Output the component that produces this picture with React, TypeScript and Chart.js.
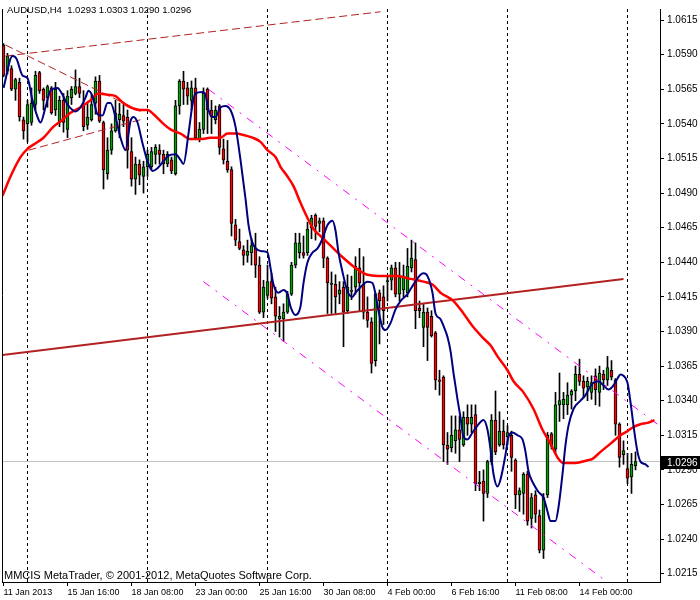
import React, { useEffect, useRef } from "react";
import { Chart, registerables } from "chart.js";

Chart.register(...registerables);

const symbolTitle = "AUDUSD,H4";
const copyright = "MMCIS MetaTrader, \u00A9 2001-2012, MetaQuotes Software Corp.";

// H4 candles, bar 0 = 11 Jan 2013 00:00
const open = [
  1.0597, 1.0578, 1.0580, 1.0565, 1.0570, 1.0543, 1.0540, 1.0541, 1.0554, 1.0577,
  1.0565, 1.0559, 1.0566, 1.0550, 1.0541, 1.0557, 1.0536, 1.0559, 1.0562, 1.0567,
  1.0553, 1.0539, 1.0543, 1.0555, 1.0571, 1.0541, 1.0504, 1.0521, 1.0535, 1.0543,
  1.0546, 1.0545, 1.0520, 1.0500, 1.0511, 1.0502, 1.0509, 1.0509, 1.0518, 1.0521,
  1.0518, 1.0511, 1.0514, 1.0504, 1.0553, 1.0571, 1.0566, 1.0557, 1.0566, 1.0529,
  1.0536, 1.0565, 1.0550, 1.0543, 1.0553, 1.0522, 1.0513, 1.0507, 1.0467, 1.0455,
  1.0449, 1.0445, 1.0447, 1.0450, 1.0438, 1.0404, 1.0416, 1.0426, 1.0415, 1.0399,
  1.0399, 1.0404, 1.0417, 1.0438, 1.0447, 1.0447, 1.0447, 1.0465, 1.0474, 1.0468,
  1.0470, 1.0443, 1.0424, 1.0424, 1.0417, 1.0422, 1.0405, 1.0419, 1.0422, 1.0436,
  1.0424, 1.0404, 1.0397, 1.0369, 1.0418, 1.0415, 1.0426, 1.0427, 1.0436, 1.0417,
  1.0420, 1.0418, 1.0436, 1.0442, 1.0407, 1.0393, 1.0404, 1.0401, 1.0389, 1.0355,
  1.0357, 1.0308, 1.0306, 1.0311, 1.0319, 1.0308, 1.0328, 1.0323, 1.0330, 1.0280,
  1.0282, 1.0273, 1.0296, 1.0326, 1.0308, 1.0318, 1.0314, 1.0315, 1.0297, 1.0272,
  1.0273, 1.0287, 1.0255, 1.0272, 1.0257, 1.0232, 1.0272, 1.0316, 1.0305, 1.0337,
  1.0337, 1.0337, 1.0344, 1.0347, 1.0359, 1.0354, 1.0350, 1.0346, 1.0358, 1.0346,
  1.0359, 1.0355, 1.0362, 1.0355, 1.0323, 1.0301, 1.0291, 1.0285, 1.0293,
];
const high = [
  1.0598, 1.0591, 1.0582, 1.0573, 1.0573, 1.0545, 1.0557, 1.0566, 1.0578, 1.0578,
  1.0566, 1.0568, 1.0567, 1.0570, 1.0560, 1.0562, 1.0564, 1.0567, 1.0579, 1.0573,
  1.0564, 1.0555, 1.0561, 1.0574, 1.0575, 1.0542, 1.0530, 1.0540, 1.0557, 1.0555,
  1.0554, 1.0550, 1.0530, 1.0516, 1.0514, 1.0513, 1.0521, 1.0523, 1.0525, 1.0525,
  1.0521, 1.0520, 1.0516, 1.0557, 1.0572, 1.0578, 1.0570, 1.0571, 1.0573, 1.0541,
  1.0566, 1.0566, 1.0557, 1.0553, 1.0554, 1.0529, 1.0528, 1.0509, 1.0471, 1.0464,
  1.0452, 1.0456, 1.0457, 1.0461, 1.0444, 1.0427, 1.0438, 1.0432, 1.0422, 1.0408,
  1.0410, 1.0419, 1.0440, 1.0461, 1.0461, 1.0459, 1.0469, 1.0474, 1.0475, 1.0472,
  1.0472, 1.0444, 1.0433, 1.0431, 1.0426, 1.0426, 1.0431, 1.0430, 1.0444, 1.0450,
  1.0444, 1.0415, 1.0400, 1.0418, 1.0420, 1.0423, 1.0430, 1.0438, 1.0440, 1.0440,
  1.0438, 1.0450, 1.0456, 1.0454, 1.0412, 1.0410, 1.0407, 1.0405, 1.0390, 1.0362,
  1.0358, 1.0317, 1.0329, 1.0329, 1.0329, 1.0332, 1.0337, 1.0337, 1.0337, 1.0289,
  1.0290, 1.0297, 1.0330, 1.0347, 1.0332, 1.0326, 1.0322, 1.0318, 1.0298, 1.0277,
  1.0288, 1.0289, 1.0273, 1.0275, 1.0261, 1.0273, 1.0317, 1.0317, 1.0346, 1.0360,
  1.0346, 1.0353, 1.0348, 1.0365, 1.0370, 1.0358, 1.0357, 1.0358, 1.0363, 1.0365,
  1.0362, 1.0372, 1.0369, 1.0356, 1.0324, 1.0311, 1.0302, 1.0302, 1.0303,
];
const low = [
  1.0574, 1.0576, 1.0564, 1.0557, 1.0542, 1.0529, 1.0527, 1.0539, 1.0550, 1.0562,
  1.0550, 1.0552, 1.0547, 1.0546, 1.0538, 1.0534, 1.0530, 1.0554, 1.0561, 1.0559,
  1.0535, 1.0536, 1.0542, 1.0547, 1.0541, 1.0493, 1.0500, 1.0518, 1.0534, 1.0530,
  1.0538, 1.0508, 1.0495, 1.0489, 1.0496, 1.0490, 1.0502, 1.0507, 1.0511, 1.0511,
  1.0504, 1.0509, 1.0504, 1.0503, 1.0547, 1.0554, 1.0554, 1.0550, 1.0529, 1.0527,
  1.0533, 1.0533, 1.0533, 1.0540, 1.0518, 1.0511, 1.0505, 1.0459, 1.0452, 1.0449,
  1.0438, 1.0440, 1.0438, 1.0429, 1.0403, 1.0400, 1.0414, 1.0410, 1.0390, 1.0386,
  1.0383, 1.0403, 1.0416, 1.0436, 1.0443, 1.0443, 1.0445, 1.0457, 1.0456, 1.0462,
  1.0436, 1.0403, 1.0403, 1.0403, 1.0410, 1.0379, 1.0403, 1.0413, 1.0417, 1.0405,
  1.0399, 1.0393, 1.0360, 1.0365, 1.0381, 1.0395, 1.0412, 1.0420, 1.0415, 1.0412,
  1.0415, 1.0415, 1.0433, 1.0392, 1.0400, 1.0379, 1.0369, 1.0386, 1.0348, 1.0344,
  1.0296, 1.0294, 1.0303, 1.0302, 1.0296, 1.0307, 1.0315, 1.0317, 1.0275, 1.0275,
  1.0253, 1.0270, 1.0294, 1.0301, 1.0307, 1.0305, 1.0308, 1.0289, 1.0262, 1.0260,
  1.0258, 1.0250, 1.0248, 1.0252, 1.0230, 1.0226, 1.0270, 1.0305, 1.0302, 1.0325,
  1.0327, 1.0330, 1.0334, 1.0340, 1.0351, 1.0342, 1.0340, 1.0341, 1.0337, 1.0336,
  1.0348, 1.0351, 1.0355, 1.0315, 1.0292, 1.0294, 1.0280, 1.0273, 1.0290,
];
const close = [
  1.0575, 1.0589, 1.0565, 1.0572, 1.0545, 1.0535, 1.0554, 1.0555, 1.0575, 1.0564,
  1.0557, 1.0567, 1.0548, 1.0565, 1.0557, 1.0541, 1.0560, 1.0565, 1.0567, 1.0562,
  1.0538, 1.0545, 1.0554, 1.0571, 1.0542, 1.0507, 1.0521, 1.0535, 1.0548, 1.0547,
  1.0542, 1.0521, 1.0500, 1.0511, 1.0503, 1.0509, 1.0518, 1.0520, 1.0523, 1.0518,
  1.0511, 1.0518, 1.0506, 1.0553, 1.0571, 1.0565, 1.0560, 1.0566, 1.0530, 1.0536,
  1.0562, 1.0550, 1.0545, 1.0550, 1.0523, 1.0514, 1.0507, 1.0468, 1.0456, 1.0450,
  1.0445, 1.0448, 1.0452, 1.0438, 1.0404, 1.0422, 1.0426, 1.0414, 1.0401, 1.0401,
  1.0404, 1.0417, 1.0438, 1.0454, 1.0454, 1.0445, 1.0464, 1.0472, 1.0466, 1.0470,
  1.0443, 1.0425, 1.0425, 1.0415, 1.0420, 1.0404, 1.0422, 1.0420, 1.0437, 1.0425,
  1.0404, 1.0398, 1.0367, 1.0417, 1.0412, 1.0405, 1.0426, 1.0436, 1.0417, 1.0429,
  1.0430, 1.0437, 1.0443, 1.0405, 1.0405, 1.0404, 1.0393, 1.0387, 1.0355, 1.0354,
  1.0308, 1.0305, 1.0315, 1.0319, 1.0312, 1.0328, 1.0323, 1.0328, 1.0280, 1.0281,
  1.0273, 1.0296, 1.0326, 1.0303, 1.0318, 1.0308, 1.0317, 1.0299, 1.0272, 1.0275,
  1.0287, 1.0253, 1.0270, 1.0258, 1.0232, 1.0270, 1.0315, 1.0307, 1.0337, 1.0340,
  1.0341, 1.0344, 1.0347, 1.0359, 1.0354, 1.0349, 1.0354, 1.0353, 1.0348, 1.0360,
  1.0355, 1.0364, 1.0357, 1.0323, 1.0299, 1.0304, 1.0284, 1.0294, 1.0296,
];

const timeTickBars = [0, 16, 32, 48, 64, 80, 96, 112, 128, 144];
const timeTickLabels = [
  "11 Jan 2013", "15 Jan 16:00", "18 Jan 08:00", "23 Jan 00:00", "25 Jan 16:00",
  "30 Jan 08:00", "4 Feb 00:00", "6 Feb 16:00", "11 Feb 08:00", "14 Feb 00:00",
];
const weekSeparatorBars = [6, 36, 66, 96, 126, 156];
const priceTicks = [
  1.0215, 1.024, 1.0265, 1.029, 1.0315, 1.034, 1.0365, 1.039, 1.0415,
  1.044, 1.0465, 1.049, 1.0515, 1.054, 1.0565, 1.059, 1.0615,
];

// [bar, price] readings of the fast (blue) moving average
const blueMA = [
  [0, 1.0566], [2.25, 1.0589], [3.25, 1.0587], [4.75, 1.0575], [6, 1.0573], [7.25, 1.0557],
  [8.5, 1.0545], [9.25, 1.0541], [10.5, 1.0552], [11.75, 1.0564], [13.5, 1.0566], [14.75, 1.0561],
  [16, 1.0554], [17.25, 1.055], [18, 1.0549], [19.25, 1.0552], [20.5, 1.0559], [21.25, 1.0564],
  [22.25, 1.056], [23.5, 1.0547], [24.75, 1.0546], [26, 1.0555], [26.75, 1.0555], [28, 1.0545],
  [29.25, 1.053], [30.5, 1.0521], [31.75, 1.0542], [32.5, 1.0545], [33.5, 1.0541], [34.75, 1.0526],
  [36, 1.0513], [37.25, 1.0506], [38.5, 1.0508], [40, 1.0513], [41.25, 1.0517], [43, 1.0518],
  [44.25, 1.0514], [45, 1.0511], [46.25, 1.0533], [47.25, 1.0554], [48, 1.0562], [49.75, 1.0563],
  [50.5, 1.0561], [51.25, 1.055], [52.25, 1.0545], [53, 1.0545], [54.25, 1.0552], [55.5, 1.0553],
  [56.75, 1.055], [58, 1.0538], [59.25, 1.0514], [60.5, 1.0486], [61.25, 1.0467], [62.25, 1.0454],
  [63.5, 1.0449], [64.75, 1.0448], [66, 1.0447], [66.75, 1.0436], [67.5, 1.0424], [68.75, 1.0418],
  [70, 1.042], [71, 1.0417], [71.75, 1.0408], [73, 1.0402], [74.25, 1.0408], [75, 1.0425],
  [76, 1.044], [77.25, 1.0447], [78.5, 1.045], [79.75, 1.0457], [81, 1.0467], [82.25, 1.047],
  [83, 1.0463], [83.75, 1.0447], [84.75, 1.0433], [86, 1.0419], [87.25, 1.0415], [88, 1.0418],
  [89.25, 1.0422], [91, 1.0426], [92.25, 1.0425], [93, 1.0417], [93.75, 1.0405], [94.75, 1.0393],
  [95.5, 1.0391], [96.75, 1.0396], [98, 1.0406], [99.25, 1.0412], [101, 1.0417], [102.5, 1.0424],
  [104.25, 1.0431], [105, 1.0432], [106, 1.043], [107.25, 1.0418], [108, 1.0403], [109.25, 1.0399],
  [110, 1.0394], [111, 1.0386], [111.75, 1.0376], [112.5, 1.036], [113.5, 1.0341], [114.25, 1.0328],
  [115, 1.0314], [116, 1.0312], [117.25, 1.0317], [118.5, 1.0322], [120, 1.0326], [121, 1.0319],
  [121.75, 1.0305], [122.5, 1.0287], [123.5, 1.0278], [124.25, 1.0283], [125.5, 1.0301], [126.25, 1.0314],
  [127.25, 1.0317], [128.5, 1.0315], [129.75, 1.0312], [130.5, 1.0303], [131.25, 1.0289], [132.5, 1.028],
  [133.75, 1.0274], [135, 1.027], [136, 1.026], [136.75, 1.0253], [138, 1.0253], [138.75, 1.0263],
  [139.75, 1.0287], [140.5, 1.0308], [141.25, 1.0322], [142.5, 1.0334], [144.25, 1.034], [145.5, 1.0344],
  [146.25, 1.0348], [147.5, 1.0353], [148.75, 1.0354], [150, 1.0351], [151.25, 1.0348], [152.5, 1.0351],
  [153.5, 1.0356], [154.25, 1.0359], [155, 1.0358], [156, 1.0353], [156.75, 1.0339], [157.5, 1.0322],
  [158.5, 1.0303], [159.25, 1.0296], [160.5, 1.0294], [161.25, 1.0292],
];

// [bar, price] readings of the slow (red) moving average
const redMA = [
  [-0.25, 1.0488], [1.75, 1.0502], [4.25, 1.0516], [6, 1.0522], [7.5, 1.0525], [10, 1.053],
  [12.5, 1.0538], [14.75, 1.0543], [16.75, 1.0548], [19.25, 1.0552], [21.75, 1.0557], [23.75, 1.0562],
  [26, 1.0561], [28, 1.056], [30, 1.0555], [31.75, 1.0552], [34.25, 1.055], [36, 1.055],
  [37.5, 1.0547], [40, 1.054], [41.75, 1.0536], [44.25, 1.0533], [46.75, 1.0529], [49.25, 1.0529],
  [51.75, 1.053], [54.25, 1.053], [56, 1.0533], [58, 1.0533], [60, 1.0532], [62.25, 1.053],
  [64.25, 1.0527], [66, 1.0521], [68, 1.0516], [69.25, 1.0509], [71, 1.0502], [72.5, 1.0495],
  [74.25, 1.0483], [76, 1.0472], [77.5, 1.0464], [79.25, 1.0459], [81.75, 1.0452], [84.25, 1.0445],
  [87.5, 1.0437], [91, 1.0431], [95, 1.043], [98.5, 1.043], [101.75, 1.0428], [105, 1.0426],
  [107.25, 1.0424], [109.25, 1.0418], [112.5, 1.0412], [115, 1.0403], [117.5, 1.0393], [120, 1.0385],
  [121.75, 1.038], [123.5, 1.0372], [126, 1.0362], [127.5, 1.0354], [130, 1.0346], [132.5, 1.0334],
  [134.75, 1.0319], [136.75, 1.0309], [138.5, 1.0299], [140, 1.0295], [143, 1.0295], [146, 1.0297],
  [147.25, 1.0298], [149.25, 1.0303], [151.75, 1.0309], [154.25, 1.0315], [156, 1.0318], [157.5, 1.0321],
  [159.25, 1.0323], [161, 1.0324], [162.75, 1.0326],
];

// drawn objects: [bar, price] anchor points
const trendLine = [[-0.25, 1.0373], [155, 1.0428]];
const dashUpper = [[0.5, 1.0589], [94.25, 1.0621]];
const dashLower = [[6.25, 1.0521], [34.25, 1.0543]];
const dashFall = [[0.5, 1.0597], [34.25, 1.0549]];
const channelUpper = [[51.25, 1.0565], [163.5, 1.0323]];
const channelLower = [[50, 1.0426], [150, 1.0211]];

const X_MIN = -0.375;
const X_MAX = 164.125;
const Y_MIN = 1.0209;
const Y_MAX = 1.0623;

const FONT = '"Liberation Sans", Arial, sans-serif';

export default function App() {
  const ref = useRef<HTMLCanvasElement | null>(null);

  useEffect(() => {
    document.body.style.margin = "0";
    const canvas = ref.current;
    if (!canvas) return;
    const bars = open.map((_, i) => i);
    const last = close[close.length - 1];
    const pts = (arr: number[][]) => arr.map(([x, y]) => ({ x, y }));

    const priceBox = {
      id: "priceBox",
      afterDraw(chart: any) {
        const { ctx, chartArea } = chart;
        const y = Math.round(chart.scales.y.getPixelForValue(last));
        ctx.save();
        ctx.fillStyle = "#000";
        ctx.fillRect(chartArea.right + 1, y - 6, 39, 13);
        ctx.fillStyle = "#fff";
        ctx.font = `10px ${FONT}`;
        ctx.textBaseline = "middle";
        ctx.textAlign = "left";
        ctx.fillText(last.toFixed(4), chartArea.right + 7, y + 1);
        ctx.restore();
      },
    };
    const frame = {
      id: "frame",
      afterDraw(chart: any) {
        const { ctx, chartArea } = chart;
        ctx.save();
        ctx.strokeStyle = "#000";
        ctx.lineWidth = 1;
        ctx.beginPath();
        ctx.moveTo(chartArea.left + 0.5, chartArea.top);
        ctx.lineTo(chartArea.left + 0.5, chartArea.bottom);
        ctx.stroke();
        ctx.restore();
      },
    };

    const lineDs = (data: any[], color: string, width: number, order: number, dash: number[] = []) => ({
      type: "line" as const,
      data,
      borderColor: color,
      borderWidth: width,
      borderDash: dash,
      pointRadius: 0,
      fill: false,
      tension: 0,
      order,
    });

    const chart = new Chart(canvas, {
      type: "bar",
      data: {
        datasets: [
          lineDs([{ x: X_MIN, y: last }, { x: X_MAX, y: last }], "#C0C0C0", 1, 12),
          {
            type: "bar",
            data: bars.map((i) => ({ x: i, y: [low[i], high[i]] })),
            backgroundColor: "#000",
            barThickness: 1,
            grouped: false,
            order: 11,
          } as any,
          {
            type: "bar",
            data: bars.map((i) => ({ x: i, y: [open[i], close[i]] })),
            backgroundColor: bars.map((i) => (close[i] >= open[i] ? "#00A000" : "#FF0000")),
            borderColor: "#000",
            borderWidth: { left: 1, right: 1, top: 1, bottom: 1 },
            borderSkipped: false,
            barThickness: 3,
            minBarLength: 1,
            grouped: false,
            order: 10,
          } as any,
          lineDs(pts(trendLine), "#B22222", 2, 7),
          lineDs(pts(dashUpper), "#B22222", 1, 6, [8, 4]),
          lineDs(pts(dashLower), "#B22222", 1, 6, [8, 4]),
          lineDs(pts(dashFall), "#B22222", 1, 6, [8, 4]),
          lineDs(pts(channelUpper), "#FF00FF", 1, 5, [8, 7, 2, 7]),
          lineDs(pts(channelLower), "#FF00FF", 1, 5, [8, 7, 2, 7]),
          { ...lineDs(pts(redMA), "#FF0000", 2.5, 3), cubicInterpolationMode: "monotone" } as any,
          { ...lineDs(pts(blueMA), "#000080", 2, 2), cubicInterpolationMode: "monotone" } as any,
        ] as any,
      },
      options: {
        responsive: false,
        animation: false,
        devicePixelRatio: 1,
        events: [],
        layout: { padding: { left: 2, right: 0, top: 0, bottom: 0 } },
        plugins: { legend: { display: false }, tooltip: { enabled: false } },
        scales: {
          x: {
            type: "linear",
            position: "bottom",
            min: X_MIN,
            max: X_MAX,
            offset: false,
            afterBuildTicks: (s: any) => {
              s.ticks = timeTickBars.map((v) => ({ value: v }));
            },
            afterFit: (s: any) => {
              s.height = 18;
            },
            ticks: {
              autoSkip: false,
              maxRotation: 0,
              minRotation: 0,
              align: "start",
              padding: 1,
              color: "#000",
              font: { family: FONT, size: 9 },
              callback: (v: any) => {
                const k = timeTickBars.indexOf(Number(v));
                return k >= 0 ? timeTickLabels[k] : "";
              },
            },
            grid: { offset: false, drawOnChartArea: false, drawTicks: true, tickLength: 4, color: "#000" },
            border: { display: true, color: "#000", width: 1 },
          },
          xs: {
            type: "linear",
            position: "top",
            min: X_MIN,
            max: X_MAX,
            offset: false,
            afterBuildTicks: (s: any) => {
              s.ticks = weekSeparatorBars.map((v) => ({ value: v }));
            },
            afterFit: (s: any) => {
              s.height = 0;
            },
            ticks: { display: false },
            grid: { offset: false, color: "#000", drawTicks: false, lineWidth: 1 },
            border: { display: false, dash: [3, 3] },
          },
          y: {
            type: "linear",
            position: "right",
            min: Y_MIN,
            max: Y_MAX,
            afterBuildTicks: (s: any) => {
              s.ticks = priceTicks.map((v) => ({ value: v }));
            },
            afterFit: (s: any) => {
              s.width = 40;
            },
            ticks: {
              color: "#000",
              padding: 3,
              font: { family: FONT, size: 10 },
              callback: (v: any) => Number(v).toFixed(4),
            },
            grid: { drawOnChartArea: false, drawTicks: true, tickLength: 4, color: "#000" },
            border: { display: true, color: "#000", width: 1 },
          },
        },
      } as any,
      plugins: [priceBox, frame],
    });
    return () => chart.destroy();
  }, []);

  const n = close.length - 1;
  const title = `${symbolTitle}  ${open[n].toFixed(4)} ${high[n].toFixed(4)} ${low[n].toFixed(4)} ${close[n].toFixed(4)}`;

  return (
    <div style={{ position: "relative", width: 700, height: 600, background: "#fff", overflow: "hidden" }}>
      <canvas ref={ref} width={700} height={600} style={{ display: "block", width: 700, height: 600 }} />
      <div
        style={{
          position: "absolute", left: 7, top: 5, font: `9.5px ${FONT}`, lineHeight: "10px",
          color: "#000", whiteSpace: "pre", pointerEvents: "none",
        }}
      >
        {title}
      </div>
      <div
        style={{
          position: "absolute", left: 4, top: 569, font: `11px ${FONT}`, lineHeight: "12px",
          color: "#000", whiteSpace: "pre", pointerEvents: "none",
        }}
      >
        {copyright}
      </div>
    </div>
  );
}
